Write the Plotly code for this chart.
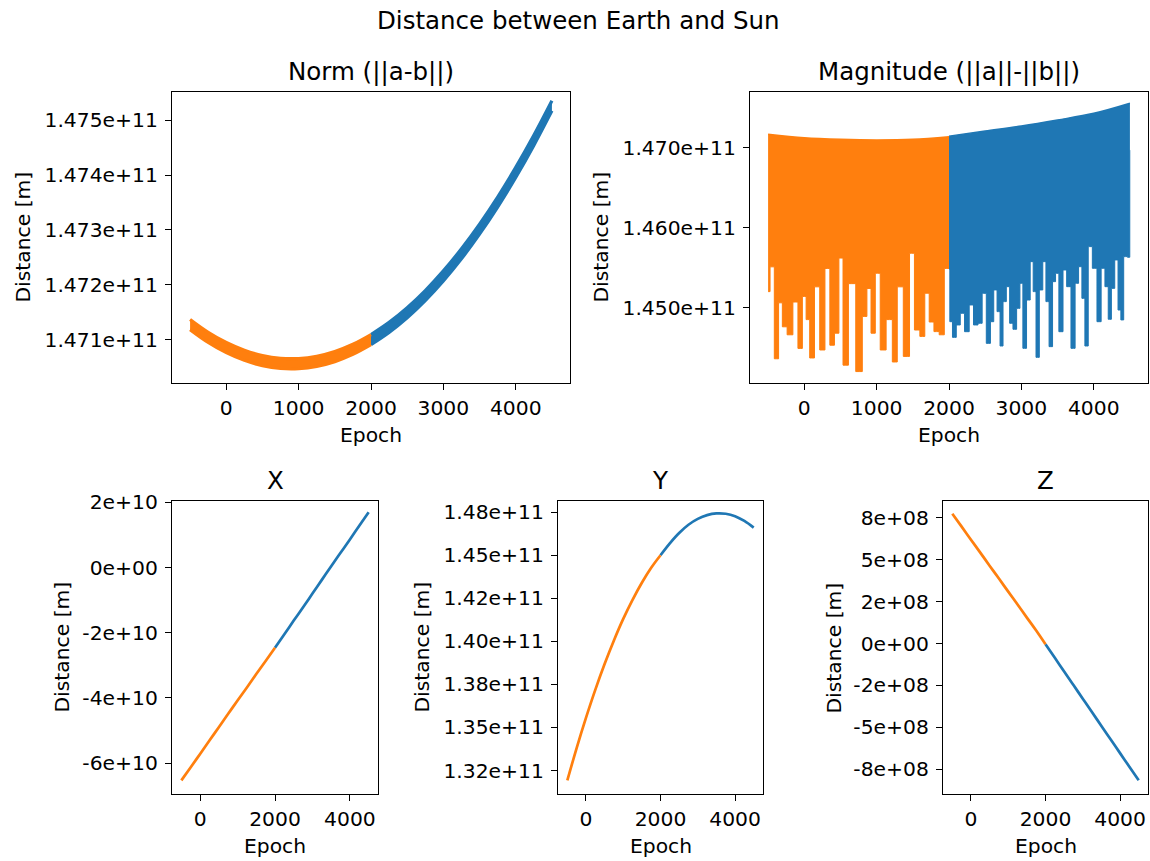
import plotly.graph_objects as go

BLUE = "#1f77b4"
ORANGE = "#ff7f0e"
FONT = "DejaVu Sans"

# ---------------- data ----------------
# Norm (||a-b||): noisy band, lower/upper edges
norm_epoch_orange = [-500, -250, 0, 250, 500, 750, 1000, 1250, 1500, 1750, 2000]
norm_low_orange = [1.471187e11, 1.470954e11, 1.470768e11, 1.470628e11, 1.470532e11, 1.470482e11,
                   1.470478e11, 1.470519e11, 1.470605e11, 1.470736e11, 1.470913e11]
norm_high_orange = [1.471371e11, 1.471138e11, 1.470952e11, 1.470812e11, 1.470716e11, 1.470666e11,
                    1.470662e11, 1.470703e11, 1.470789e11, 1.470920e11, 1.471097e11]
norm_epoch_blue = [2000, 2250, 2500, 2750, 3000, 3250, 3500, 3750, 4000, 4250, 4500]
norm_low_blue = [1.470913e11, 1.471135e11, 1.471402e11, 1.471714e11, 1.472072e11, 1.472475e11,
                 1.472923e11, 1.473416e11, 1.473955e11, 1.474539e11, 1.475168e11]
norm_high_blue = [1.471097e11, 1.471319e11, 1.471586e11, 1.471898e11, 1.472256e11, 1.472659e11,
                  1.473107e11, 1.473600e11, 1.474139e11, 1.474723e11, 1.475352e11]

# Magnitude (||a||-||b||): upper envelope and the low ends of the oscillation columns
mag_top_epoch_orange = [-500, 0, 500, 1000, 1500, 2000]
mag_top_orange = [1.47168e11, 1.47125e11, 1.47105e11, 1.47097e11, 1.47105e11, 1.47138e11]
mag_top_epoch_blue = [2000, 2500, 3000, 3500, 4000, 4500]
mag_top_blue = [1.47145e11, 1.47209e11, 1.47272e11, 1.47347e11, 1.47430e11, 1.47556e11]

mag_col_epoch_orange = [-500, -446, -382, -328, -278, -196, -119, -56, 3, 48, 102, 180, 247, 324,
                        383, 451, 506, 565, 655, 768, 836, 895, 950, 1013, 1086, 1176, 1258, 1312,
                        1425, 1484, 1561, 1634, 1697, 1756, 1828, 1901, 1969, 2000]
mag_col_low_orange = [1.4520e11, 1.4551e11, 1.4436e11, 1.4506e11, 1.4476e11, 1.4466e11, 1.4507e11,
                      1.4449e11, 1.4514e11, 1.4485e11, 1.4437e11, 1.4526e11, 1.4447e11, 1.4549e11,
                      1.4453e11, 1.4468e11, 1.4562e11, 1.4428e11, 1.4530e11, 1.4420e11, 1.4489e11,
                      1.4524e11, 1.4468e11, 1.4543e11, 1.4447e11, 1.4485e11, 1.4432e11, 1.4526e11,
                      1.4439e11, 1.4568e11, 1.4472e11, 1.4464e11, 1.4518e11, 1.4482e11, 1.4470e11,
                      1.4466e11, 1.4549e11, 1.4549e11]
mag_col_epoch_blue = [2000, 2023, 2073, 2128, 2183, 2247, 2311, 2366, 2435, 2481, 2550, 2595, 2641,
                      2687, 2724, 2769, 2815, 2861, 2907, 2962, 2998, 3044, 3099, 3145, 3182, 3223,
                      3273, 3319, 3360, 3406, 3456, 3489, 3548, 3603, 3649, 3722, 3763, 3818, 3855,
                      3901, 3947, 4015, 4075, 4130, 4180, 4221, 4267, 4313, 4359, 4391, 4437, 4496,
                      4500]
mag_col_low_blue = [1.4548e11, 1.44824e11, 1.44628e11, 1.44783e11, 1.44929e11, 1.44699e11,
                    1.45033e11, 1.44783e11, 1.44804e11, 1.45179e11, 1.44553e11, 1.44824e11,
                    1.45221e11, 1.44950e11, 1.44520e11, 1.45075e11, 1.45262e11, 1.44804e11,
                    1.44729e11, 1.44991e11, 1.45304e11, 1.44491e11, 1.45095e11, 1.45575e11,
                    1.45200e11, 1.44378e11, 1.45221e11, 1.45575e11, 1.45075e11, 1.44512e11,
                    1.45325e11, 1.45429e11, 1.44699e11, 1.45471e11, 1.45262e11, 1.44491e11,
                    1.45304e11, 1.45512e11, 1.45116e11, 1.44520e11, 1.45763e11, 1.45492e11,
                    1.44824e11, 1.45492e11, 1.45262e11, 1.44854e11, 1.45241e11, 1.45596e11,
                    1.44970e11, 1.44846e11, 1.45638e11, 1.45630e11, 1.46970e11]

# X, Y, Z components
xyz_epoch_orange = [-500, -250, 0, 250, 500, 750, 1000, 1250, 1500, 1750, 2000]
xyz_epoch_blue = [2000, 2250, 2500, 2750, 3000, 3250, 3500, 3750, 4000, 4250, 4500]
x_orange = [-6.532e10, -6.13e10, -5.72e10, -5.31e10, -4.90e10, -4.49e10, -4.08e10, -3.68e10,
            -3.27e10, -2.87e10, -2.460e10]
x_blue = [-2.460e10, -2.05e10, -1.63e10, -1.22e10, -0.80e10, -0.38e10, 0.04e10, 0.45e10,
          0.86e10, 1.28e10, 1.693e10]
y_orange = [1.3192e11, 1.3380e11, 1.3555e11, 1.3718e11, 1.3868e11, 1.4005e11, 1.4130e11,
            1.4241e11, 1.4340e11, 1.4427e11, 1.4500e11]
y_blue = [1.4500e11, 1.4569e11, 1.4629e11, 1.4677e11, 1.4711e11, 1.4733e11, 1.4743e11,
          1.4741e11, 1.4727e11, 1.4699e11, 1.4660e11]
z_orange = [7.74e8, 6.97e8, 6.19e8, 5.42e8, 4.64e8, 3.87e8, 3.09e8, 2.32e8, 1.54e8, 0.77e8, -0.05e8]
z_blue = [-0.05e8, -0.86e8, -1.68e8, -2.49e8, -3.30e8, -4.11e8, -4.93e8, -5.74e8, -6.55e8, -7.36e8, -8.17e8]

# tick labels
ticks_epoch_wide = [0, 1000, 2000, 3000, 4000]
ticks_epoch_narrow = [0, 2000, 4000]
norm_ticks = [1.471e11, 1.472e11, 1.473e11, 1.474e11, 1.475e11]
norm_ticktext = ["1.471e+11", "1.472e+11", "1.473e+11", "1.474e+11", "1.475e+11"]
mag_ticks = [1.450e11, 1.460e11, 1.470e11]
mag_ticktext = ["1.450e+11", "1.460e+11", "1.470e+11"]
x_ticks = [-6e10, -4e10, -2e10, 0, 2e10]
x_ticktext = ["-6e+10", "-4e+10", "-2e+10", "0e+00", "2e+10"]
y_ticks = [1.325e11, 1.35e11, 1.375e11, 1.40e11, 1.425e11, 1.45e11, 1.475e11]
y_ticktext = ["1.32e+11", "1.35e+11", "1.38e+11", "1.40e+11", "1.42e+11", "1.45e+11", "1.48e+11"]
z_ticks = [-7.5e8, -5e8, -2.5e8, 0, 2.5e8, 5e8, 7.5e8]
z_ticktext = ["-8e+08", "-5e+08", "-2e+08", "0e+00", "2e+08", "5e+08", "8e+08"]

# ---------------- figure ----------------
fig = go.Figure()

def band(xs, lo, hi, color, ax):
    fig.add_trace(go.Scatter(x=xs, y=lo, mode="lines", line=dict(color=color, width=3.2, shape="spline"),
                             xaxis="x" + ax, yaxis="y" + ax, hoverinfo="skip"))
    fig.add_trace(go.Scatter(x=xs, y=hi, mode="lines", line=dict(color=color, width=3.2, shape="spline"),
                             fill="tonexty", fillcolor=color, xaxis="x" + ax, yaxis="y" + ax,
                             hoverinfo="skip"))

# Norm
band(norm_epoch_blue, norm_low_blue, norm_high_blue, BLUE, "")
band(norm_epoch_orange, norm_low_orange, norm_high_orange, ORANGE, "")

# Magnitude
def mag(col_x, col_low, top_x, top_y, color):
    fig.add_trace(go.Scatter(x=col_x, y=col_low, mode="lines", line=dict(color=color, width=1, shape="hvh"),
                             xaxis="x2", yaxis="y2", hoverinfo="skip"))
    fig.add_trace(go.Scatter(x=top_x, y=top_y, mode="lines", line=dict(color=color, width=1.5, shape="spline"),
                             fill="tonexty", fillcolor=color, xaxis="x2", yaxis="y2", hoverinfo="skip"))

mag(mag_col_epoch_blue, mag_col_low_blue, mag_top_epoch_blue, mag_top_blue, BLUE)
mag(mag_col_epoch_orange, mag_col_low_orange, mag_top_epoch_orange, mag_top_orange, ORANGE)

# X, Y, Z
for ax, yb, yo in (("3", x_blue, x_orange), ("4", y_blue, y_orange), ("5", z_blue, z_orange)):
    fig.add_trace(go.Scatter(x=xyz_epoch_blue, y=yb, mode="lines",
                             line=dict(color=BLUE, width=2.7, shape="spline"),
                             xaxis="x" + ax, yaxis="y" + ax))
    fig.add_trace(go.Scatter(x=xyz_epoch_orange, y=yo, mode="lines",
                             line=dict(color=ORANGE, width=2.7, shape="spline"),
                             xaxis="x" + ax, yaxis="y" + ax))

TICK = 20.3
TITLE = 24.5
common = dict(showline=True, mirror=True, linecolor="black", linewidth=1.2, ticks="outside",
              ticklen=6, tickwidth=1.2, tickcolor="black", showgrid=False, zeroline=False,
              automargin=False,
              tickfont=dict(family=FONT, size=TICK, color="black"))

W, H = 1150, 861
def px_x(a, b):
    return [a / W, b / W]
def px_y(top, bottom):
    return [1 - bottom / H, 1 - top / H]

top_dom = px_y(92, 383)
bot_dom = px_y(501, 794)
dx1, dx2 = px_x(172, 570), px_x(750, 1148)
dx3, dx4, dx5 = px_x(172, 378), px_x(558, 763), px_x(943, 1148)

def xaxis(dom, anchor, tv):
    return dict(domain=dom, anchor=anchor, range=[-750, 4750], tickvals=tv,
                ticktext=[str(v) for v in tv], ticklabelstandoff=1, **common)

def yaxis(dom, anchor, rng, tv, tt):
    return dict(domain=dom, anchor=anchor, range=rng, tickvals=tv, ticktext=tt,
                ticklabelstandoff=3, **common)

layout = dict(
    template="none",
    width=W, height=H, margin=dict(l=0, r=0, t=0, b=0, pad=0, autoexpand=False),
    paper_bgcolor="white", plot_bgcolor="white", showlegend=False,
    xaxis=xaxis(dx1, "y", ticks_epoch_wide),
    yaxis=yaxis(top_dom, "x", [1.470216e11, 1.47551e11], norm_ticks, norm_ticktext),
    xaxis2=xaxis(dx2, "y2", ticks_epoch_wide),
    yaxis2=yaxis(top_dom, "x2", [1.44057e11, 1.47697e11], mag_ticks, mag_ticktext),
    xaxis3=xaxis(dx3, "y3", ticks_epoch_narrow),
    yaxis3=yaxis(bot_dom, "x3", [-6.95e10, 2.04e10], x_ticks, x_ticktext),
    xaxis4=xaxis(dx4, "y4", ticks_epoch_narrow),
    yaxis4=yaxis(bot_dom, "x4", [1.3113e11, 1.4815e11], y_ticks, y_ticktext),
    xaxis5=xaxis(dx5, "y5", ticks_epoch_narrow),
    yaxis5=yaxis(bot_dom, "x5", [-8.99e8, 8.50e8], z_ticks, z_ticktext),
)
fig.update_layout(**layout)

ann = []
def text(t, x, y, size, angle=0):
    ann.append(dict(text=t, x=x / W, y=1 - y / H, xref="paper", yref="paper", showarrow=False,
                    xanchor="center", yanchor="middle", textangle=angle,
                    font=dict(family=FONT, size=size, color="black")))

text("Distance between Earth and Sun", 578, 20, TITLE)
text("Norm (||a-b||)", 371, 72, TITLE)
text("Magnitude (||a||-||b||)", 949, 72, TITLE)
text("X", 275, 480, TITLE)
text("Y", 660.5, 480, TITLE)
text("Z", 1045.5, 480, TITLE)
for cx in (371, 949):
    text("Epoch", cx, 435, TICK)
for cx in (275, 660.5, 1045.5):
    text("Epoch", cx, 846, TICK)
for cx in (22, 600):
    text("Distance [m]", cx, 237.5, TICK, -90)
for cx in (61, 421, 833):
    text("Distance [m]", cx, 647.5, TICK, -90)
fig.update_layout(annotations=ann)

fig.write_html("out.html", config={"displayModeBar": False},
               post_script="document.body.style.margin='0';document.body.style.overflow='hidden';")
